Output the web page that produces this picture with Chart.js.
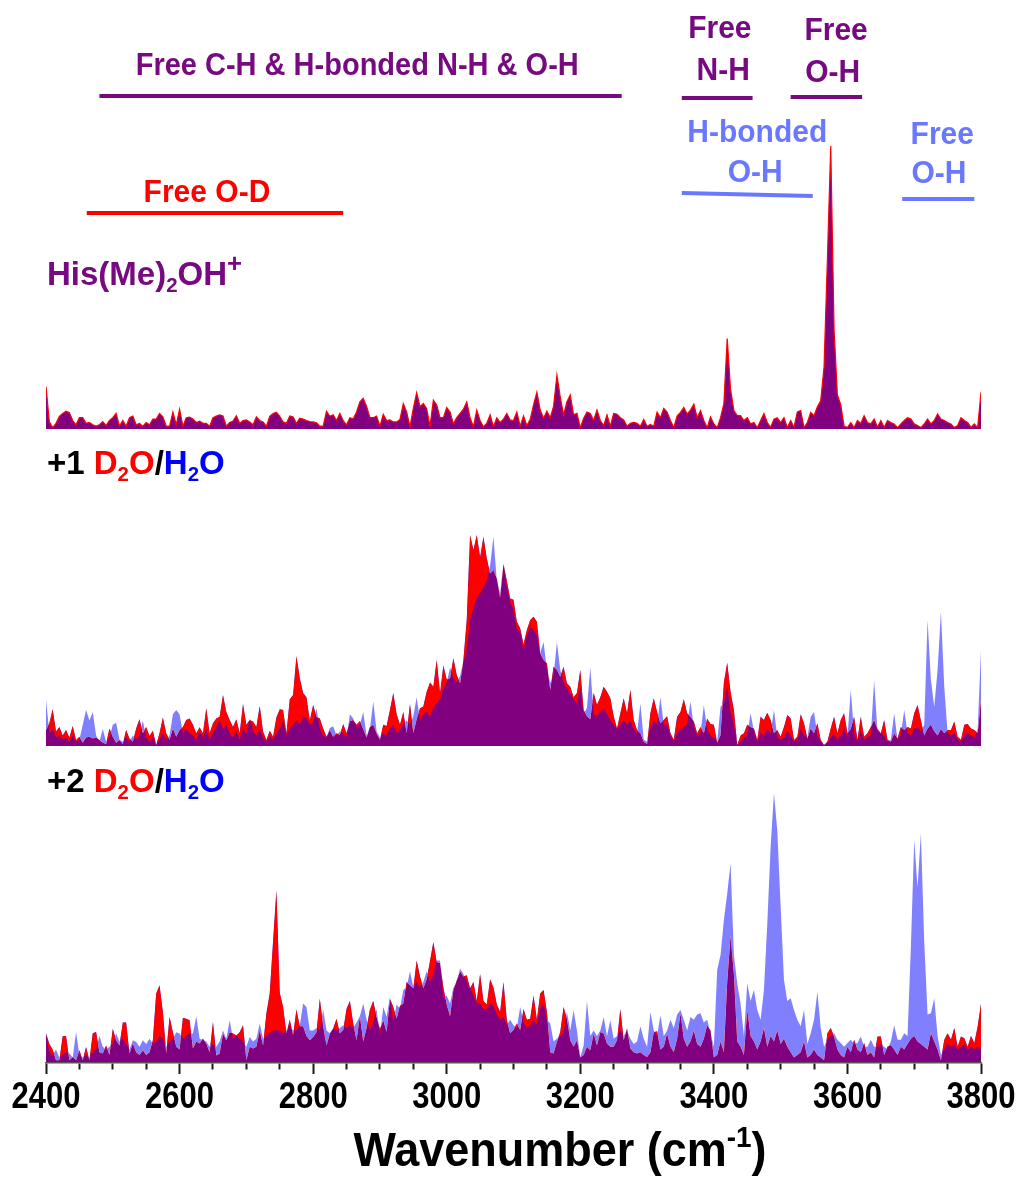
<!DOCTYPE html>
<html>
<head>
<meta charset="utf-8">
<title>His(Me)2OH+ IR spectra</title>
<script src="https://cdn.jsdelivr.net/npm/chart.js@4.4.1/dist/chart.umd.min.js"></script>
<style>
  html, body { margin: 0; padding: 0; background: #fff; }
  #wrap { width: 1019px; height: 1177px; }
</style>
</head>
<body>
<div id="wrap"><canvas id="spectra"></canvas></div>
<script>
// wavenumber grid (cm-1), one sample every 5 cm-1
const xStart = 2400;
const xStep = 5;
const xTickLabels = [2400, 2600, 2800, 3000, 3200, 3400, 3600, 3800];

// bare ion, relative intensity
const hisMe2OH = [
  15, 2.5, 0.5, 2, 4.5, 5.5, 6.3, 5.8, 3, 1.5,
  4, 4, 2, 2.3, 1.5, 1, 1.5, 2.6, 1.2, 3,
  4, 5.5, 1, 3, 1, 4, 4.6, 1.5, 2, 1,
  2.3, 1.5, 3.5, 3.5, 5.5, 4.3, 1, 1, 6, 1.5,
  7, 1, 4, 4.2, 3.5, 2.3, 2.8, 2, 2, 1,
  4, 4.6, 5, 4.6, 1, 2.3, 2.8, 4.7, 2, 3,
  3.2, 2.5, 1.5, 4.3, 3, 2.5, 1, 4.5, 5.5, 5.9,
  4.5, 2.5, 2, 4.6, 4.2, 2, 3.8, 3.5, 3, 2.6,
  2.5, 2.2, 1, 1, 6.3, 4.5, 5, 3, 5.5, 3,
  1.5, 4, 3.5, 6, 9.6, 10.8, 8, 4, 4, 4.6,
  1, 5.2, 3, 3.2, 2.5, 2.5, 3.4, 9, 6, 0.8,
  7.3, 12.8, 7.9, 9, 7.2, 1, 10.2, 8.5, 4, 4,
  7.6, 6, 1.8, 4, 5.5, 7, 9.6, 4, 0.8, 6.7,
  3, 0.8, 2, 5, 0.8, 4, 2.3, 3.5, 5.5, 3.2,
  3, 6, 1, 4.6, 1.2, 3.4, 8.5, 13, 6.7, 3.8,
  6.3, 4, 8, 19, 11.4, 5, 9.6, 12, 5, 5.5,
  0.5, 3.8, 6, 5.5, 3, 6.7, 3, 1.2, 5, 1,
  5.5, 5.2, 4, 3.2, 1, 2, 2.3, 2, 1, 3.4,
  1, 1.6, 1, 6, 4, 7.3, 6, 3, 0.5, 4.7,
  5.9, 7.6, 5.3, 6.7, 8.8, 4, 6.5, 3, 0.5, 4.3,
  1.8, 0.5, 4, 9, 32, 14, 6.5, 4.7, 4.7, 3,
  4, 1.8, 2.3, 0.5, 3, 5.5, 2.3, 0.6, 3.5, 4,
  2.3, 4, 0.5, 3, 0.6, 6, 6.5, 0.5, 2.3, 5.9,
  4.7, 7.9, 10, 22, 60, 100, 35, 12, 8.6, 1,
  0.5, 2.3, 0.5, 3, 2, 4.7, 2.3, 1.8, 3.5, 0.6,
  3, 0.6, 3, 2.3, 1.8, 0.5, 1.8, 3, 4, 3.5,
  1.8, 1.2, 0.5, 1.8, 3.5, 1.8, 3, 5.3, 3.5, 3,
  2.3, 1.8, 0.5, 1.2, 4, 3, 2.3, 0.6, 1.8, 0.5,
  13
];

// +1 water: D2O tagged and H2O tagged
const d2oPlus1 = [
  7.5, 10.7, 17.3, 6.8, 9, 5, 7.5, 4, 9.4, 2.8,
  4.4, 1.5, 4, 4.4, 3.5, 4, 2.8, 1.5, 1, 8.3,
  4.4, 1.5, 2.8, 1, 7.5, 3.5, 2, 8.3, 12.6, 6,
  9, 4.7, 7.2, 0.5, 6, 13.5, 6, 3, 8.3, 4.4,
  7.5, 9, 12.3, 13, 10, 6, 8.8, 6, 17.8, 6,
  10.7, 13, 13.8, 24, 16, 12.3, 9, 12.6, 6, 19.8,
  10, 12.3, 11.5, 9, 18.9, 6.8, 2.8, 7.2, 4.4, 13.5,
  17.3, 17, 6, 22, 24, 42.5, 32, 25, 23, 12,
  19.3, 13.8, 13, 8.3, 4.4, 7.5, 4.4, 6, 5.2, 10.4,
  6, 11.8, 12.3, 10, 11.8, 8, 4, 9, 10, 6,
  3, 10, 9.4, 17, 25, 15, 10, 16, 6, 19.8,
  6, 12.6, 17.8, 18.6, 25.6, 30, 28, 40.6, 25, 38,
  31.4, 32, 41.4, 33.5, 29.6, 40.6, 59.4, 99.5, 92.5, 99.5,
  89, 98.7, 88.5, 81.4, 83, 79, 70, 86, 78, 69.6,
  69, 58.6, 55.5, 48, 54.7, 59.4, 61, 58.6, 43.7, 40.6,
  39, 26.4, 37.4, 36, 32.7, 37.4, 29.6, 28, 23, 25,
  35.8, 17, 14, 12.6, 25, 19.5, 23, 28, 25.6, 22.5,
  14, 8.3, 15.5, 22.5, 15.5, 26.4, 12.3, 7.5, 6, 2,
  1, 15.5, 22.5, 16, 10.7, 12.3, 14, 6, 3, 13.8,
  16, 22, 15.4, 13.8, 11.6, 6, 9, 6, 13, 10.4,
  10, 1.5, 5.2, 30, 39.3, 25.6, 17, 0.5, 5, 6,
  10, 9, 8.3, 2.8, 13.8, 12.3, 15.7, 12.3, 6, 7.5,
  4.4, 9, 14.6, 13, 2.8, 4.4, 15, 10.7, 3.5, 8.3,
  6, 10.7, 2.8, 0.5, 2, 8.3, 13.8, 6, 12.3, 15.4,
  6, 8, 13.8, 3, 13.8, 4.4, 6, 9, 12.3, 8,
  6, 12.3, 3, 2, 6, 3.5, 9, 7.5, 9, 8.3,
  15.4, 19.3, 12, 5, 8.3, 10, 7, 5, 8, 6,
  7.5, 7.5, 11.5, 4.4, 3, 10, 10.4, 8.3, 7.5, 6,
  21.7
];
const h2oPlus1 = [
  22, 6, 8, 4, 5, 3, 4, 2, 5, 2,
  3, 10, 17, 12, 16, 5, 2, 8, 2, 4,
  10, 11, 3, 2, 4, 2, 5, 3, 5, 12,
  4, 2, 4, 1, 3, 6, 3, 5, 15, 17,
  15, 6, 8, 6, 5, 3, 7, 4, 8, 3,
  6, 9, 12, 8, 10, 6, 4, 7, 3, 8,
  6, 13, 7, 5, 8, 4, 2, 5, 3, 6,
  8, 12, 5, 8, 10, 12, 10, 14, 13, 10,
  11, 17.8, 8, 5, 4, 8.5, 9.3, 5, 7, 6,
  4, 15, 13, 9, 10, 16, 5, 8, 21, 7,
  4, 6, 5, 8, 10, 6, 8, 10, 12, 10,
  14, 23, 12, 15, 16, 14, 18, 20, 22, 27,
  30, 37, 32, 30, 33, 40, 45, 60, 65, 70,
  72, 75, 78, 85, 98.7, 78, 72, 86, 75, 68,
  64, 55, 54, 45, 52, 56, 55, 52, 44, 49,
  36, 30, 33, 49, 36, 30, 27, 25, 22, 20,
  28, 15, 18, 37, 15, 14, 16, 18, 15, 12,
  10, 8, 10, 12, 10, 12, 8, 6, 20, 3,
  2, 8, 12, 10, 23, 10, 10, 5, 2, 6,
  8, 9, 10, 21, 9, 5, 6, 19.3, 8, 5,
  4, 2, 18.5, 20, 28, 16, 10, 1, 2, 4,
  5, 15.5, 7, 2, 6, 5, 8, 6, 17, 4,
  3, 4, 7, 5, 2, 3, 8, 5, 4, 13.8,
  16, 5, 2, 1, 1.5, 4, 6, 3, 5, 8,
  4, 26.4, 6, 2, 7, 3, 4, 5, 31, 7,
  6, 5, 2, 3, 15.5, 3, 5, 17, 6, 5,
  8, 9, 7, 10, 59.4, 31, 18.5, 36, 63.4, 28,
  6, 5, 6, 3, 2, 5, 6, 5, 4, 8,
  45
];

// +2 water: D2O tagged and H2O tagged
const d2oPlus2 = [
  11, 7, 5, 1, 1, 9.9, 10, 1, 2.2, 1,
  4.7, 1, 5.9, 1, 11, 11.5, 4, 3.5, 6.5, 3,
  12.7, 8.4, 6.5, 15, 15, 3.5, 7.2, 4, 3, 4.7,
  3, 4, 8.4, 25.7, 28.8, 18.9, 3.5, 17, 11.4, 6,
  5, 16.8, 16.4, 15.8, 5.4, 8, 7.2, 9, 7.2, 4,
  15.2, 2.8, 3.5, 10.9, 8.4, 11.4, 10.9, 10.2, 11.4, 14,
  1, 6, 5.4, 6, 12, 6.5, 18.3, 25.7, 45, 64,
  26, 20.7, 11, 16, 10.4, 19.8, 13.6, 13.6, 10, 8.4,
  9.6, 11.4, 23.8, 13.6, 6.5, 10.9, 12.8, 16.4, 10.9, 12.2,
  20, 23, 14.6, 8.4, 17.3, 8, 13, 19.8, 23, 17,
  12.6, 15.8, 11.5, 23.8, 20.7, 16.4, 21.2, 22, 30, 28.8,
  27.7, 38, 32, 27.7, 31, 37.8, 44.8, 37.4, 37, 28,
  21.7, 17.3, 27, 30.6, 34, 32, 32.5, 27.7, 30, 23,
  33, 23, 21.7, 31, 28, 21.7, 18.9, 30, 15.8, 11,
  12.2, 14.6, 12.2, 20, 16, 16.4, 25, 16, 25.7, 27,
  19, 4, 3.5, 7.8, 11.5, 20.7, 16.4, 8.4, 6, 8.4,
  2, 3, 6, 4.7, 10.9, 6.5, 11.5, 10.9, 7.2, 6,
  6, 8.4, 20, 8.4, 12.8, 5.4, 4, 3.5, 4, 3,
  2.2, 4, 11.4, 11.8, 5, 6, 10.9, 6, 4, 9,
  18.4, 9, 6, 8, 12, 7, 6, 9, 14, 12,
  2, 3, 8, 4, 30, 47, 33, 8, 6, 3,
  19.6, 10, 8, 5, 8, 13, 6, 10, 8, 12,
  7, 9, 6, 4, 2, 3, 4, 8, 2, 3,
  5, 3, 2, 1, 11, 13, 9.8, 5, 3, 2,
  6, 4, 8.6, 5, 4, 7.4, 3, 4, 2, 9.8,
  9.8, 3, 6, 6.7, 5, 3, 6, 5, 7, 9,
  10, 8, 7, 6, 5, 11, 8, 5, 1, 8.6,
  11, 8.6, 13, 6, 9.8, 9.2, 6, 10, 7.4, 13.5,
  22
];
const h2oPlus2 = [
  11, 4, 3, 5, 2, 3, 4, 3.5, 2, 11.5,
  3, 2, 3, 2, 4, 5, 10, 6, 5, 6,
  7, 10.9, 8, 9, 7, 5, 8.4, 7.8, 6, 8.4,
  7, 9, 7, 8, 10, 9, 6, 8, 9, 11.4,
  10.9, 9, 10, 11, 10.9, 17.3, 9, 8.4, 8, 6,
  7, 6, 8, 12, 9, 15.8, 9, 10, 9, 8,
  6, 9.6, 8, 9, 14.6, 9, 10, 11, 12, 12,
  12, 11, 12, 14, 12, 12, 14, 22, 20.7, 12,
  12, 13, 12, 19.8, 12, 11, 13, 12, 13, 14,
  13, 14, 13, 15, 17.3, 22, 16, 12, 15, 20,
  10, 20.7, 17, 24.4, 15, 21.7, 20, 27, 28, 34,
  28, 30, 28, 30, 34, 30, 33, 38, 38, 24,
  25, 22, 28, 30, 35, 33, 30, 28, 25, 22,
  22, 20, 20, 22, 21, 18, 16, 17, 14, 16,
  14, 13, 20.7, 15, 13, 14, 16, 14, 20, 22,
  16, 14.6, 8, 9, 10, 11, 18.9, 12, 19.5, 12,
  2.2, 6.5, 23, 10, 12, 10, 12, 17, 10, 15.8,
  9, 10, 12, 10, 12, 9, 7, 8, 13.6, 9,
  6, 18.9, 12, 10, 17.7, 10, 12, 16, 13, 18,
  19.6, 16, 12, 17, 16, 18, 18.4, 15, 16, 11,
  6, 34.4, 40, 53, 62.8, 74, 40, 29.5, 22, 10,
  29.5, 23, 27, 19.6, 16, 27, 51.7, 80, 100, 86,
  58, 30.7, 23, 24, 19.6, 16, 13.6, 19.6, 7, 11,
  16, 26.4, 13, 6, 8.6, 10, 11, 8.6, 7.4, 6,
  7.4, 8.6, 7, 7.4, 9.8, 6, 6, 8.6, 6, 6,
  7, 6, 5, 8, 14, 8.6, 8.6, 11, 10, 43,
  82.6, 65, 85, 45, 18, 18.4, 24, 10, 3, 5,
  7, 6, 7, 5, 6, 7, 5, 6, 5, 6,
  5
];

// colours
const RED = '#ff0000';
const PURPLE = '#800080';
const LAVENDER = '#8080ff';
const PURPLE_TEXT = '#770a80';
const BLUE_TEXT = '#6a78ff';
const FONT = '"Liberation Sans", Arial, Helvetica, sans-serif';

// each trace sits on its own baseline of the shared y range (pixel-like units)
const panelTop = { base: 634, gain: 2.83 };
const panelMid = { base: 317, gain: 2.12 };
const panelBot = { base: 0, gain: 2.70 };

function toPoints(values, panel) {
  return values.map((v, i) => ({ x: xStart + i * xStep, y: panel.base + v * panel.gain }));
}

// band brackets: wavenumber range, y of the bar, colour
const bands = [
  { from: 2480, to: 3262, y1: 96, y2: 96, color: PURPLE_TEXT },
  { from: 3352, to: 3458, y1: 98, y2: 98, color: PURPLE_TEXT },
  { from: 3515, to: 3622, y1: 97, y2: 97, color: PURPLE_TEXT },
  { from: 3352, to: 3548, y1: 193, y2: 196, color: BLUE_TEXT },
  { from: 3682, to: 3790, y1: 199, y2: 199, color: BLUE_TEXT },
  { from: 2461, to: 2845, y1: 213, y2: 213, color: RED }
];
const bandNotes = [
  { text: 'Free C-H & H-bonded N-H & O-H', at: 2866, y: 75, size: 29, color: PURPLE_TEXT },
  { text: 'Free', at: 3409, y: 38, size: 30, color: PURPLE_TEXT },
  { text: 'N-H', at: 3414, y: 80, size: 30, color: PURPLE_TEXT },
  { text: 'Free', at: 3583, y: 40, size: 30, color: PURPLE_TEXT },
  { text: 'O-H', at: 3578, y: 82, size: 30, color: PURPLE_TEXT },
  { text: 'H-bonded', at: 3465, y: 142, size: 30, color: BLUE_TEXT },
  { text: 'O-H', at: 3462, y: 182, size: 30, color: BLUE_TEXT },
  { text: 'Free', at: 3742, y: 144, size: 30, color: BLUE_TEXT },
  { text: 'O-H', at: 3737, y: 183, size: 30, color: BLUE_TEXT },
  { text: 'Free O-D', at: 2641, y: 202, size: 30, color: RED }
];

function partFont(p, size) {
  const s = p.sup ? size * (p.scale || 0.62) : (p.sub ? size * 0.62 : size);
  return 'bold ' + s + 'px ' + FONT;
}

// draws text made of coloured runs with sub/superscripts
function drawRich(ctx, parts, x, y, size, align, sy) {
  ctx.save();
  ctx.textAlign = 'left';
  ctx.textBaseline = 'alphabetic';
  let w = 0;
  parts.forEach(p => { ctx.font = partFont(p, size); w += ctx.measureText(p.text).width; });
  let cx = align === 'center' ? -w / 2 : 0;
  ctx.translate(x, y);
  ctx.scale(1, sy || 1);
  parts.forEach(p => {
    ctx.font = partFont(p, size);
    ctx.fillStyle = p.color;
    const dy = p.sub ? size * 0.2 : (p.sup ? -size * 0.4 : 0);
    ctx.fillText(p.text, cx, dy);
    cx += ctx.measureText(p.text).width;
  });
  ctx.restore();
}

const spectrumLabels = {
  id: 'spectrumLabels',
  afterDraw(chart) {
    const ctx = chart.ctx;
    const xs = chart.scales.x;
    const left = chart.chartArea.left;

    ctx.save();
    ctx.lineCap = 'butt';
    ctx.lineWidth = 4;
    bands.forEach(b => {
      ctx.strokeStyle = b.color;
      ctx.beginPath();
      ctx.moveTo(xs.getPixelForValue(b.from), b.y1);
      ctx.lineTo(xs.getPixelForValue(b.to), b.y2);
      ctx.stroke();
    });
    ctx.restore();

    bandNotes.forEach(n => {
      drawRich(ctx, [{ text: n.text, color: n.color }], xs.getPixelForValue(n.at), n.y, n.size, 'center', 1.06);
    });

    drawRich(ctx, [
      { text: 'His(Me)', color: PURPLE_TEXT },
      { text: '2', color: PURPLE_TEXT, sub: true },
      { text: 'OH', color: PURPLE_TEXT },
      { text: '+', color: PURPLE_TEXT, sup: true, scale: 0.78 }
    ], left + 1, 285, 33, 'left');

    ['+1 ', '+2 '].forEach((lead, k) => {
      drawRich(ctx, [
        { text: lead, color: '#000' },
        { text: 'D', color: RED },
        { text: '2', color: RED, sub: true },
        { text: 'O', color: RED },
        { text: '/', color: '#000' },
        { text: 'H', color: '#0000ff' },
        { text: '2', color: '#0000ff', sub: true },
        { text: 'O', color: '#0000ff' }
      ], left + 1, k === 0 ? 474 : 792, 33, 'left');
    });

    // tick labels at the major ticks
    xTickLabels.forEach(v => {
      drawRich(ctx, [{ text: String(v), color: '#000' }], xs.getPixelForValue(v), 1108, 31, 'center', 1.17);
    });

    drawRich(ctx, [
      { text: 'Wavenumber (cm', color: '#000' },
      { text: '-1', color: '#000', sup: true },
      { text: ')', color: '#000' }
    ], 560, 1166, 45, 'center', 1.05);
  }
};

new Chart(document.getElementById('spectra'), {
  type: 'line',
  data: {
    datasets: [
      {
        label: 'His(Me)2OH+',
        data: toPoints(hisMe2OH, panelTop),
        fill: { value: panelTop.base },
        backgroundColor: PURPLE,
        borderColor: RED,
        borderWidth: 1.2,
        order: 0
      },
      {
        label: '+1 D2O',
        data: toPoints(d2oPlus1, panelMid),
        fill: { value: panelMid.base },
        backgroundColor: PURPLE,
        borderWidth: 0,
        order: 2
      },
      {
        label: '+1 H2O',
        data: toPoints(h2oPlus1, panelMid),
        fill: { target: 1, above: LAVENDER, below: RED },
        backgroundColor: LAVENDER,
        borderWidth: 0,
        order: 1
      },
      {
        label: '+2 D2O',
        data: toPoints(d2oPlus2, panelBot),
        fill: { value: panelBot.base },
        backgroundColor: PURPLE,
        borderWidth: 0,
        order: 2
      },
      {
        label: '+2 H2O',
        data: toPoints(h2oPlus2, panelBot),
        fill: { target: 3, above: LAVENDER, below: RED },
        backgroundColor: LAVENDER,
        borderWidth: 0,
        order: 1
      }
    ]
  },
  options: {
    responsive: true,
    maintainAspectRatio: false,
    animation: false,
    devicePixelRatio: 1,
    layout: { padding: { left: 46, right: 38, top: 100, bottom: 74 } },
    elements: { point: { radius: 0 }, line: { tension: 0 } },
    plugins: { legend: { display: false }, tooltip: { enabled: false } },
    scales: {
      x: {
        type: 'linear',
        min: 2400,
        max: 3800,
        afterFit: (scale) => { scale.height = 40; },
        ticks: { display: false, stepSize: 50, maxTicksLimit: 40, autoSkip: false },
        grid: {
          drawOnChartArea: false,
          drawTicks: true,
          tickLength: 11,
          tickWidth: 2,
          tickColor: '#1a1a1a',
          tickBorderDash: (c) => (c.tick && c.tick.value % 200 !== 0) ? [6, 40] : [],
          z: 1
        },
        border: { color: '#555', width: 1.5, z: 1 }
      },
      y: { display: false, min: 0, max: 963 }
    }
  },
  plugins: [spectrumLabels]
});
</script>
</body>
</html>
